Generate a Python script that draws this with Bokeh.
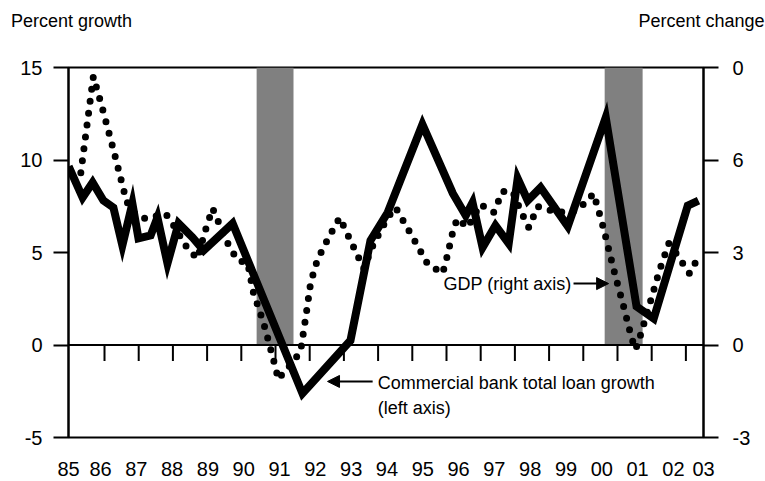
from bokeh.plotting import figure
from bokeh.models import (Range1d, LinearAxis, FixedTicker, CustomJSTickFormatter,
                          Span, Label, Arrow, NormalHead)
from bokeh.embed import file_html
from bokeh.resources import INLINE

# ---------------- data ----------------
years = list(range(1985, 2004))
tick_years = list(range(1986, 2004))
left_ticks = [-5, 0, 5, 10, 15]
left_labels = ["-5", "0", "5", "10", "15"]
right_ticks = [-3, 0, 3, 6, 9]
right_labels = ["-3", "0", "3", "6", "0"]
titles = ["Percent growth", "Percent change"]

rec_start = [1990.36, 2000.08]
rec_end = [1991.39, 2001.14]

loan_x = [1985.11, 1985.50, 1985.78, 1986.08, 1986.36, 1986.61, 1986.89, 1987.06, 1987.40, 1987.59,
          1987.87, 1988.18, 1988.57, 1988.88, 1989.69, 1991.64, 1992.98, 1993.54, 1994.02, 1994.99,
          1995.84, 1996.20, 1996.39, 1996.67, 1997.03, 1997.40, 1997.65, 1997.93, 1998.29, 1999.05,
          2000.11, 2000.97, 2001.45, 2002.40, 2002.70]
loan_y = [9.65, 7.97, 8.78, 7.81, 7.43, 5.38, 7.65, 5.76, 5.92, 6.89,
          4.41, 6.57, 5.81, 5.11, 6.57, -2.62, 0.24, 5.65, 7.16, 11.92,
          8.19, 7.00, 7.70, 5.27, 6.46, 5.49, 9.00, 7.81, 8.51, 6.41,
          12.30, 2.08, 1.43, 7.54, 7.81]

gdp_x = [1985.45, 1985.80, 1986.03, 1986.36, 1986.73, 1986.98, 1987.26, 1987.82, 1988.04, 1988.43,
         1988.71, 1988.91, 1989.13, 1989.24, 1989.58, 1989.83, 1990.11, 1990.27, 1990.55, 1990.80,
         1990.97, 1991.11, 1991.39, 1991.59, 1991.73, 1991.87, 1992.06, 1992.40, 1992.68, 1992.98,
         1993.18, 1993.35, 1993.63, 1994.02, 1994.24, 1994.72, 1995.13, 1995.55, 1995.64, 1995.86,
         1995.97, 1996.25, 1996.61, 1996.98, 1997.23, 1997.51, 1997.73, 1997.96, 1998.21, 1998.77,
         1999.32, 1999.77, 1999.91, 2000.05, 2000.22, 2000.39, 2000.58, 2000.83, 2000.94, 2001.06,
         2001.31, 2001.61, 2001.87, 2002.06, 2002.45, 2002.65]
gdp_y = [5.59, 8.71, 7.77, 6.34, 4.65, 4.23, 4.10, 4.26, 3.88, 3.13,
         2.80, 3.65, 4.43, 4.13, 3.23, 2.74, 2.67, 1.70, 0.73, -0.34,
         -1.12, -0.89, -0.54, -0.18, 0.89, 2.03, 2.77, 3.55, 4.13, 3.39,
         2.90, 2.48, 3.29, 4.13, 4.46, 3.49, 2.64, 2.32, 2.67, 3.78,
         4.10, 3.81, 4.56, 4.30, 4.98, 4.98, 4.36, 3.81, 4.49, 4.30,
         4.36, 4.91, 4.36, 3.78, 2.97, 2.19, 1.38, 0.24, -0.15, 0.24,
         1.22, 2.42, 3.29, 3.00, 2.32, 2.75]

# ---------------- styles ----------------
FONT = "Liberation Sans"
X0, X1 = 1985.106, 2002.84

p = figure(frame_width=635, frame_height=370,
           x_range=Range1d(X0, X1), y_range=Range1d(-5, 15),
           output_backend="svg", toolbar_location=None,
           min_border_left=68, min_border_right=62, min_border_top=67, min_border_bottom=42)
p.background_fill_color = "white"
p.border_fill_color = "white"
p.grid.visible = False
p.outline_line_color = "black"
p.outline_line_width = 2
p.outline_line_alpha = 1.0

p.extra_y_ranges = {"right": Range1d(-3, 9)}
p.extra_x_ranges = {"tk": Range1d(1984.947, 2003.515), "ttl": Range1d(-0.0048, 1.0032)}

# x axis (labels only)
xa = p.xaxis[0]
xa.ticker = FixedTicker(ticks=[min(max(y, X0), X1) for y in years])
xa.formatter = CustomJSTickFormatter(code="return String(Math.round(tick) % 100).padStart(2, '0')")
xa.axis_line_color = None
xa.major_tick_line_color = None
xa.minor_tick_line_color = None
xa.major_label_text_font = FONT
xa.major_label_text_font_size = "20px"
xa.major_label_text_color = "black"
xa.major_label_standoff = 18

# left axis
ya = p.yaxis[0]
ya.ticker = FixedTicker(ticks=left_ticks)
ya.major_label_overrides = dict(zip(left_ticks, left_labels))
ya.axis_line_color = "black"
ya.axis_line_width = 2
ya.major_tick_line_width = 2
ya.major_tick_out = 15
ya.major_tick_in = 0
ya.minor_tick_line_color = None
ya.major_label_text_font = FONT
ya.major_label_text_font_size = "20px"
ya.major_label_text_color = "black"
ya.major_label_standoff = 11

# right axis
ra = LinearAxis(y_range_name="right", ticker=FixedTicker(ticks=right_ticks),
                major_label_overrides=dict(zip(right_ticks, right_labels)))
ra.axis_line_color = "black"
ra.axis_line_width = 2
ra.major_tick_line_width = 2
ra.major_tick_out = 15
ra.major_tick_in = 0
ra.minor_tick_line_color = None
ra.major_label_text_font = FONT
ra.major_label_text_font_size = "20px"
ra.major_label_text_color = "black"
ra.major_label_standoff = 14
p.add_layout(ra, "right")

# unit titles, as an axis above the frame
ta = LinearAxis(x_range_name="ttl", ticker=FixedTicker(ticks=[0, 1]),
                major_label_overrides=dict(zip([0, 1], titles)))
ta.axis_line_color = None
ta.major_tick_line_color = None
ta.minor_tick_line_color = None
ta.major_label_text_font = FONT
ta.major_label_text_font_size = "18px"
ta.major_label_text_color = "black"
ta.major_label_standoff = 31
p.add_layout(ta, "above")

# recession shading
p.quad(left=rec_start, right=rec_end, bottom=0, top=15, fill_color="#808080", line_color=None)

# zero line and inner ticks
p.add_layout(Span(location=0, dimension="width", line_color="black", line_width=2))
p.segment(x0=tick_years, y0=0, x1=tick_years, y1=-0.86, x_range_name="tk",
          line_color="black", line_width=2)

# GDP dotted (right axis)
p.line(gdp_x, gdp_y, y_range_name="right", line_color="black", line_width=7,
       line_dash="0 12", line_cap="round", line_join="round")

# loan growth (left axis)
p.line(loan_x, loan_y, line_color="black", line_width=8, line_join="miter")

# texts
def lab(x, y, t, align="left", size="18px"):
    p.add_layout(Label(x=x, y=y, text=t, text_align=align, text_baseline="middle",
                       text_font=FONT, text_font_size=size, text_color="black"))

lab(1993.74, -2.08, "Commercial bank total loan growth")
lab(1993.74, -3.38, "(left axis)")
lab(1995.58, 3.32, "GDP (right axis)")

p.add_layout(Arrow(end=NormalHead(size=12, fill_color="black", line_color="black"),
                   x_start=1993.60, y_start=-1.97, x_end=1992.34, y_end=-1.97,
                   line_color="black", line_width=2))
p.add_layout(Arrow(end=NormalHead(size=12, fill_color="black", line_color="black"),
                   x_start=1999.21, y_start=3.32, x_end=2000.19, y_end=3.32,
                   line_color="black", line_width=2))

open("out.html", "w").write(file_html(p, INLINE))
